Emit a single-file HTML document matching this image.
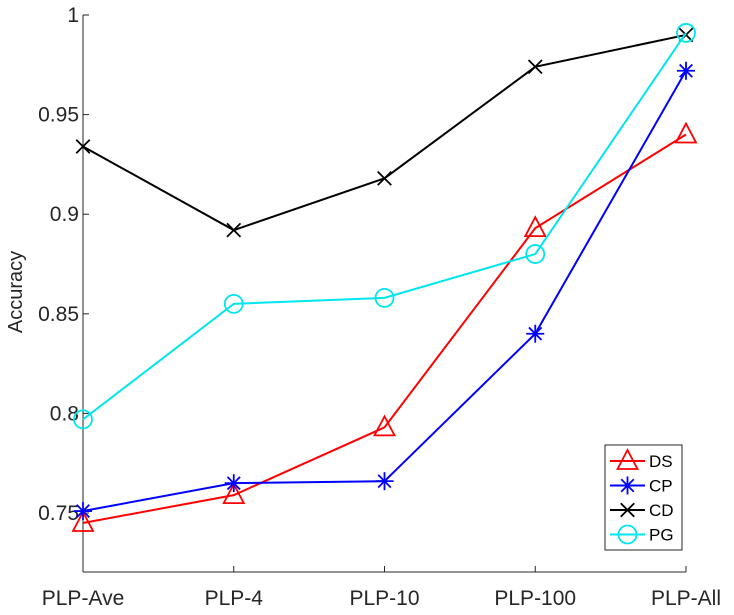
<!DOCTYPE html>
<html><head><meta charset="utf-8"><style>
body{margin:0;background:#fff;}
svg text{font-family:"Liberation Sans",Arial,sans-serif;fill:#262626;}
</style></head><body>
<svg id="chart" width="734" height="610" xmlns="http://www.w3.org/2000/svg"></svg>
<script>
const categories=["PLP-Ave","PLP-4","PLP-10","PLP-100","PLP-All"];
const yTicks=[0.75,0.8,0.85,0.9,0.95,1];
const yTickLabels=["0.75","0.8","0.85","0.9","0.95","1"];
const dsValues=[0.745,0.759,0.793,0.893,0.940];
const cpValues=[0.751,0.765,0.766,0.840,0.972];
const cdValues=[0.934,0.892,0.918,0.974,0.990];
const pgValues=[0.797,0.855,0.858,0.880,0.991];
const seriesNames=["DS","CP","CD","PG"];

const svg=document.getElementById('chart');
const NS='http://www.w3.org/2000/svg';
const L=83,R=686,T=15,B=572,yMin=0.7204,yMax=1;
const x=i=>L+(R-L)*i/(categories.length-1);
const y=v=>B-(v-yMin)/(yMax-yMin)*(B-T);
function mk(tag,attrs,parent){const e=document.createElementNS(NS,tag);for(const k in attrs)e.setAttribute(k,attrs[k]);(parent||svg).appendChild(e);return e;}

const axes=mk('g',{});


mk('line',{x1:L,y1:T,x2:L,y2:B,stroke:'#262626','stroke-width':1},axes);
mk('line',{x1:L,y1:B,x2:R,y2:B,stroke:'#262626','stroke-width':1},axes);
yTicks.forEach((v,i)=>{
  mk('line',{x1:L,y1:y(v),x2:L+6,y2:y(v),stroke:'#262626'},axes);
  const t=mk('text',{x:L-4,y:y(v)+7,'text-anchor':'end','font-size':21},axes);
  t.textContent=yTickLabels[i];
  
  
});
categories.forEach((c,i)=>{
  mk('line',{x1:x(i),y1:B,x2:x(i),y2:B-6,stroke:'#262626'},axes);
  const t=mk('text',{x:x(i),y:B+33,'text-anchor':'middle','font-size':21},axes);
  t.textContent=c;
  
  
});
const yl=mk('text',{x:0,y:0,transform:'translate(22,292) rotate(-90)','text-anchor':'middle','font-size':20});
yl.textContent='Accuracy';



function marker(type,cx,cy,color,g){
  const s=9;
  if(type==='tri') mk('polygon',{points:`${cx},${cy-s-2} ${cx-s-1},${cy+s-1} ${cx+s+1},${cy+s-1}`,fill:'none',stroke:color,'stroke-width':1.8},g);
  else if(type==='star'){[[s,0],[0,s],[s*0.7,s*0.7],[s*0.7,-s*0.7]].forEach(([a,b])=>mk('line',{x1:cx-a,y1:cy-b,x2:cx+a,y2:cy+b,stroke:color,'stroke-width':1.8},g));}
  else if(type==='x'){[[s*0.75,s*0.75],[s*0.75,-s*0.75]].forEach(([a,b])=>mk('line',{x1:cx-a,y1:cy-b,x2:cx+a,y2:cy+b,stroke:color,'stroke-width':1.8},g));}
  else mk('circle',{cx:cx,cy:cy,r:s,fill:'none',stroke:color,'stroke-width':1.8},g);
}
const series=[[dsValues,'#ff0000','tri'],[cpValues,'#0000ff','star'],[cdValues,'#000000','x'],[pgValues,'#00e5ee','circ']];
series.forEach(([vals,color,type],si)=>{
  const g=mk('g',{});
  
  
  mk('polyline',{points:vals.map((v,i)=>x(i)+','+y(v)).join(' '),fill:'none',stroke:color,'stroke-width':2},g);
  vals.forEach((v,i)=>marker(type,x(i),y(v),color,g));
});
const lg=mk('g',{});


mk('rect',{x:605,y:445,width:77,height:105,fill:'#fff',stroke:'#262626','stroke-width':1},lg);
series.forEach(([vals,color,type],si)=>{
  const cy=461+si*24.5;
  const e=mk('g',{},lg);
  
  
  mk('line',{x1:610,y1:cy,x2:645,y2:cy,stroke:color,'stroke-width':2},e);
  marker(type,627.5,cy,color,e);
  const t=mk('text',{x:649,y:cy+6,'font-size':17},e);
  t.textContent=seriesNames[si];
  t.style.fill='#000';
});
</script>
</body></html>
